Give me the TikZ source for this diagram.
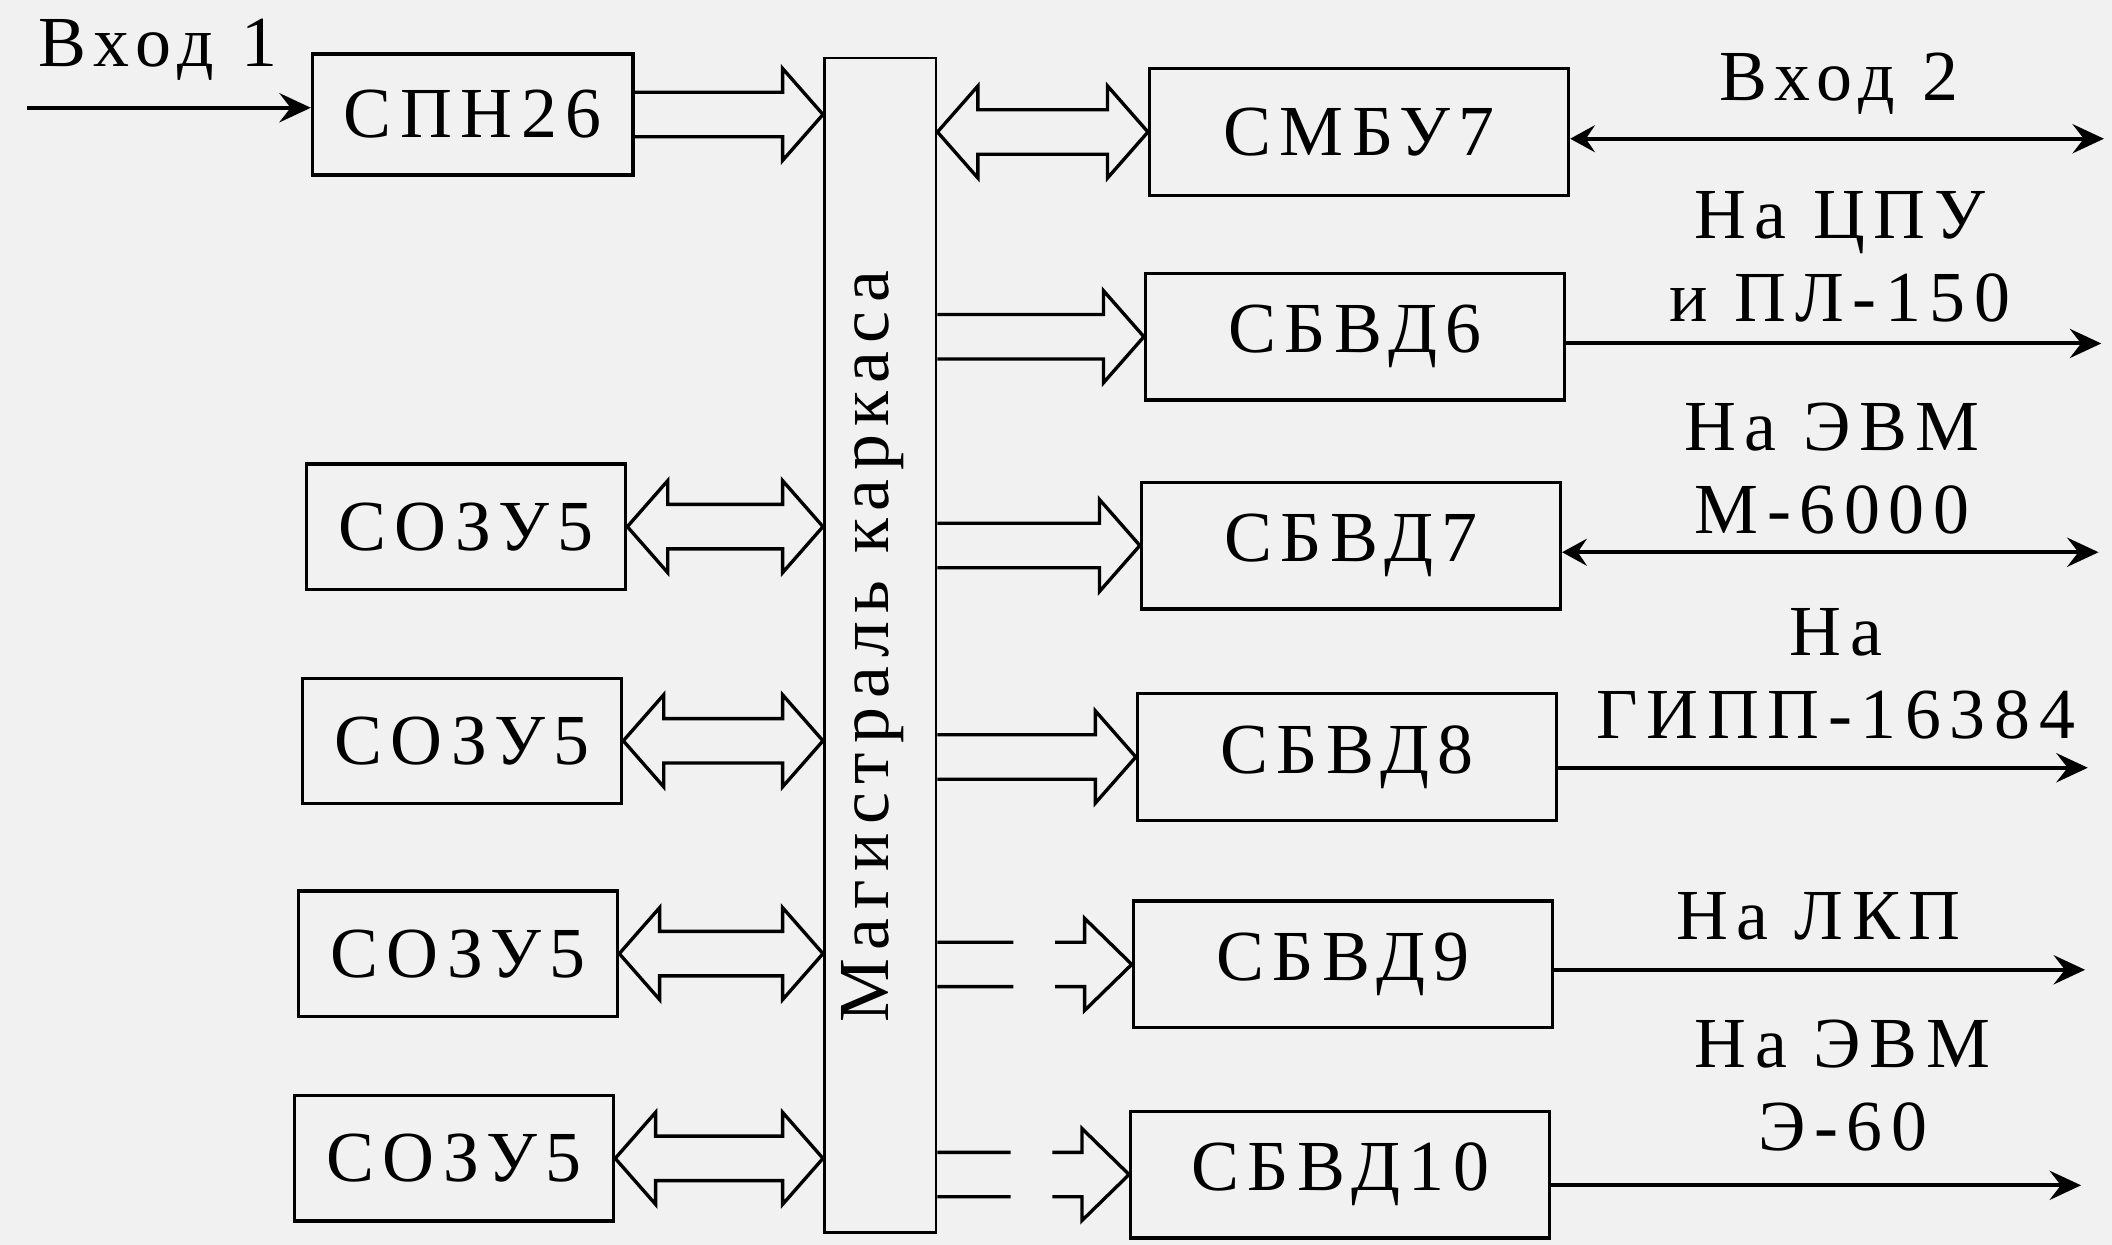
\documentclass[tikz,border=0pt]{standalone}
\usepackage{fontspec}
\setmainfont{Liberation Serif}[LetterSpace=12]
\usetikzlibrary{arrows.meta,calc}
\definecolor{bg}{RGB}{241,241,241}
\def\fgap{9.9pt}\def\fbarb{20.5pt}\def\fhead{18pt}
\def\fheadg{21pt}\def\gapA{52.8pt}\def\gapB{34.2pt}
% one-way fat arrow: x from #1 to #2, y from #3
\newcommand\fatR[3]{\draw[fat] let \p1=(#1), \p2=(#2), \p3=(#3) in
  (\x1,\y3+\fgap) -- (\x2-\fhead,\y3+\fgap) -- (\x2-\fhead,\y3+\fbarb) -- (\x2,\y3)
  -- (\x2-\fhead,\y3-\fbarb) -- (\x2-\fhead,\y3-\fgap) -- (\x1,\y3-\fgap);}
% two-way fat arrow
\newcommand\fatLR[3]{\draw[fat] let \p1=(#1), \p2=(#2), \p3=(#3) in
  (\x1,\y3) -- (\x1+\fhead,\y3+\fbarb) -- (\x1+\fhead,\y3+\fgap) -- (\x2-\fhead,\y3+\fgap)
  -- (\x2-\fhead,\y3+\fbarb) -- (\x2,\y3) -- (\x2-\fhead,\y3-\fbarb) -- (\x2-\fhead,\y3-\fgap)
  -- (\x1+\fhead,\y3-\fgap) -- (\x1+\fhead,\y3-\fbarb) -- cycle;}
% interrupted fat arrow
\newcommand\fatRgap[3]{\draw[fat] let \p1=(#1), \p2=(#2), \p3=(#3) in
  (\x1,\y3+\fgap) -- (\x2-\gapA,\y3+\fgap) (\x1,\y3-\fgap) -- (\x2-\gapA,\y3-\fgap)
  (\x2-\gapB,\y3+\fgap) -- (\x2-\fheadg,\y3+\fgap) -- (\x2-\fheadg,\y3+\fbarb) -- (\x2,\y3)
  -- (\x2-\fheadg,\y3-\fbarb) -- (\x2-\fheadg,\y3-\fgap) -- (\x2-\gapB,\y3-\fgap);}
\begin{document}
\begin{tikzpicture}[x=0.6pt,y=-0.6pt,
  txt/.style={font=\fontsize{32}{37}\selectfont},
  box/.style={draw,line width=1.5pt,inner sep=0pt,txt},
  lbox/.style={box,minimum width=142.2pt,minimum height=55.8pt},
  rbox/.style={box,minimum width=186.6pt,minimum height=56.4pt},
  lbl/.style={align=center,inner sep=0pt,txt},
  fat/.style={line width=1.5pt,line join=miter,miter limit=20},
  sig/.style={line width=1.8pt,-{Stealth[length=14pt,width=13pt,inset=5pt]}},
  sigb/.style={line width=1.8pt,{Stealth[length=11pt,width=12pt,inset=4pt]}-{Stealth[length=14pt,width=13pt,inset=5pt]}},
]
\fill[bg] (0,0) rectangle (1568,924);
\useasboundingbox (0,0) rectangle (1568,924);

% bus
\node[draw,line width=1.2pt,minimum width=49.8pt,minimum height=523.2pt,inner sep=0pt] (bus) at (653.5,479) {};
\node[txt,rotate=90,inner sep=0pt] (bustxt) at (648,480) {Магистраль каркаса};

% blocks
\node[box,minimum width=142.8pt,minimum height=54pt] (spn) at (351,85) {СПН26};
\node[lbox] (sozu1) at (346,391) {СОЗУ5};
\node[lbox] (sozu2) at (343,550) {СОЗУ5};
\node[lbox] (sozu3) at (340,708) {СОЗУ5};
\node[lbox] (sozu4) at (337,860) {СОЗУ5};
\node[rbox] (smbu) at (1009,98) {СМБУ7};
\node[rbox] (sbvd6) at (1006,250) {СБВД6};
\node[rbox] (sbvd7) at (1003,405) {СБВД7};
\node[rbox] (sbvd8) at (1000,562) {СБВД8};
\node[rbox] (sbvd9) at (997,716) {СБВД9};
\node[rbox] (sbvd10) at (995,872) {СБВД10};

% input 1
\node[lbl] (lin1) at (117,37) {Вход 1};
\coordinate (in1) at (20,80);
\draw[sig] (in1) -- (in1 -| spn.west);

% fat arrows to/from bus
\fatR{spn.east}{bus.west}{spn.center}
\fatLR{sozu1.east}{bus.west}{sozu1.center}
\fatLR{sozu2.east}{bus.west}{sozu2.center}
\fatLR{sozu3.east}{bus.west}{sozu3.center}
\fatLR{sozu4.east}{bus.west}{sozu4.center}
\fatLR{bus.east}{smbu.west}{smbu.center}
\fatR{bus.east}{sbvd6.west}{sbvd6.center}
\fatR{bus.east}{sbvd7.west}{sbvd7.center}
\fatR{bus.east}{sbvd8.west}{sbvd8.center}
\fatRgap{bus.east}{sbvd9.west}{sbvd9.center}
\fatRgap{bus.east}{sbvd10.west}{sbvd10.center}

% outputs
\coordinate (o1) at (1562,103);
\coordinate (o2) at (1560,255);
\coordinate (o3) at (1558,410);
\coordinate (o4) at (1550,570);
\coordinate (o5) at (1548,720);
\coordinate (o6) at (1545,880);
\draw[sigb] (smbu.east |- o1) -- (o1);
\draw[sig] (sbvd6.east |- o2) -- (o2);
\draw[sigb] (sbvd7.east |- o3) -- (o3);
\draw[sig] (sbvd8.east |- o4) -- (o4);
\draw[sig] (sbvd9.east |- o5) -- (o5);
\draw[sig] (sbvd10.east |- o6) -- (o6);

% output labels
\node[lbl] (l1) at (1365,62) {Вход 2};
\node[lbl] (l2) at (1366,191) {На ЦПУ\\и ПЛ-150};
\node[lbl] (l3) at (1360,348) {На ЭВМ\\М-6000};
\node[lbl] (l4) at (1363,500) {На\\ГИПП-16384};
\node[lbl] (l5) at (1350,680) {На ЛКП};
\node[lbl] (l6) at (1368,806) {На ЭВМ\\Э-60};
\end{tikzpicture}
\end{document}
